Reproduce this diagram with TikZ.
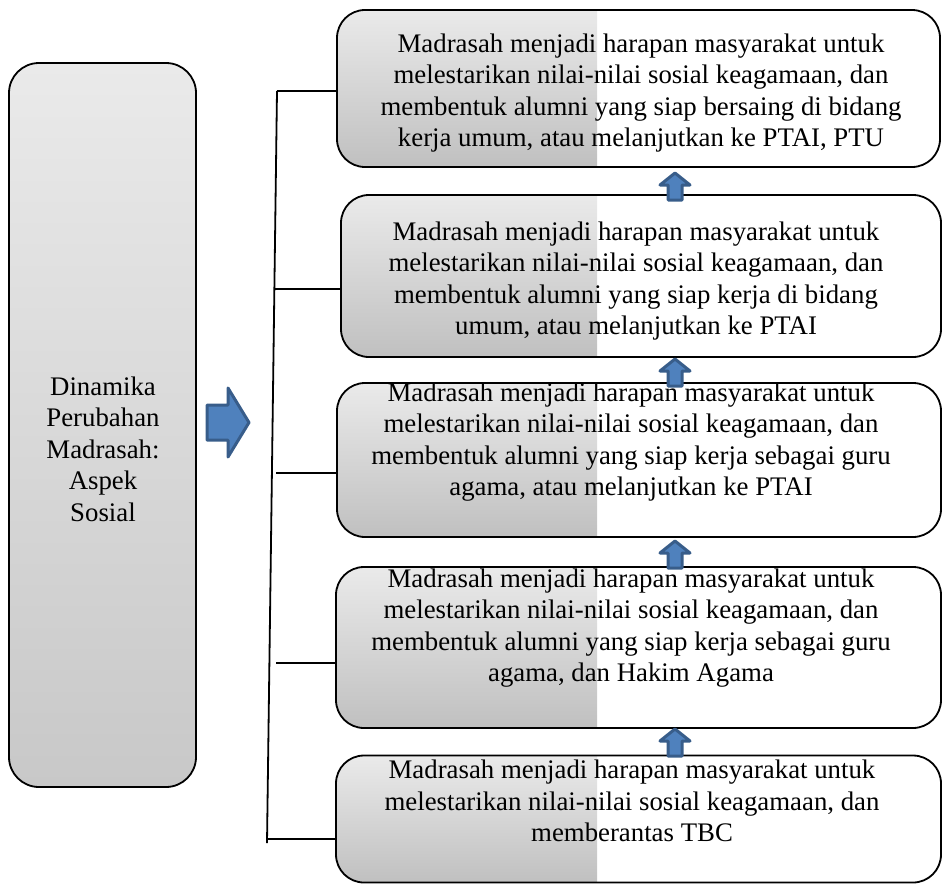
\documentclass[tikz,border=0pt]{standalone}
\usepackage{fontspec}
\setmainfont{Liberation Serif}
\definecolor{shadetop}{HTML}{EAEAEA}
\definecolor{shadebot}{HTML}{C0C0C0}
\definecolor{leftbot}{HTML}{C8C8C8}
\definecolor{arrowfill}{HTML}{4F81BD}
\definecolor{arrowline}{HTML}{385D8A}
\begin{document}
\begin{tikzpicture}[x=1pt,y=-1pt,
  outline/.style={draw=black, line width=1.8pt},
  stage/.style={outline, rounded corners=28pt, inner sep=0pt,
    path picture={\shade[sharp corners, top color=shadetop, bottom color=shadebot]
      (path picture bounding box.north west) rectangle (path picture bounding box.south -| split);}},
  mainbox/.style={outline, rounded corners=30pt, inner sep=0pt,
    top color=shadetop, bottom color=leftbot},
  caption/.style={font=\fontsize{26.8}{31.5}\selectfont, align=center, inner sep=0pt},
  link/.style={line width=1.8pt},
  bluearrow/.style={fill=arrowfill, draw=arrowline, line width=3pt, line join=round}]
\useasboundingbox (0,0) rectangle (942,884);
\coordinate (split) at (597,0);

% left summary box
\node[mainbox, minimum width=187pt, minimum height=724pt] (aspek) at (102.5,425) {};
\node[caption] (aspektext) at (103,449) {Dinamika\\Perubahan\\Madrasah:\\Aspek\\Sosial};

% stages, newest on top
\node[stage, minimum width=603pt, minimum height=157pt] (s1) at (638.5,88.5) {};
\node[stage, minimum width=600pt, minimum height=162pt] (s2) at (641,276) {};
\node[stage, minimum width=604pt, minimum height=154pt] (s3) at (639,460) {};
\node[stage, minimum width=605pt, minimum height=161pt] (s4) at (638.5,647.5) {};
\node[stage, minimum width=605pt, minimum height=127pt] (s5) at (638.5,819) {};

\node[caption] (t1) at (641,93) {Madrasah menjadi harapan masyarakat untuk\\melestarikan nilai-nilai sosial keagamaan, dan\\membentuk alumni yang siap bersaing di bidang\\kerja umum, atau melanjutkan ke PTAI, PTU};
\node[caption] (t2) at (636,281) {Madrasah menjadi harapan masyarakat untuk\\melestarikan nilai-nilai sosial keagamaan, dan\\membentuk alumni yang siap kerja di bidang\\umum, atau melanjutkan ke PTAI};
\node[caption] (t3) at (631,442) {Madrasah menjadi harapan masyarakat untuk\\melestarikan nilai-nilai sosial keagamaan, dan\\membentuk alumni yang siap kerja sebagai guru\\agama, atau melanjutkan ke PTAI};
\node[caption] (t4) at (631,628) {Madrasah menjadi harapan masyarakat untuk\\melestarikan nilai-nilai sosial keagamaan, dan\\membentuk alumni yang siap kerja sebagai guru\\agama, dan Hakim Agama};
\node[caption] (t5) at (632,801) {Madrasah menjadi harapan masyarakat untuk\\melestarikan nilai-nilai sosial keagamaan, dan\\memberantas TBC};

% bracket joining the stages
\coordinate (trunktop) at (277,91);
\coordinate (trunkbot) at (267,843);
\coordinate (b2) at (274.5,289);
\coordinate (b3) at (276,473);
\coordinate (b4) at (276,663);
\coordinate (b5) at (267.3,839);
\draw[link] (trunktop) -- (trunkbot);
\draw[link] (trunktop) -- (trunktop -| s1.west);
\draw[link] (b2) -- (b2 -| s2.west);
\draw[link] (b3) -- (b3 -| s3.west);
\draw[link] (b4) -- (b4 -| s4.west);
\draw[link] (b5) -- (b5 -| s5.west);

% block arrow from the summary to the stages
\coordinate (ra) at (207,405);
\draw[bluearrow] (ra) -- ++(21,0) -- ++(0,-17) -- ++(21,34.5) -- ++(-21,34.5) -- ++(0,-17) -- ++(-21,0) -- cycle;

% small arrows between stages
\foreach \tip [count=\i] in {173,359,541,729} {
  \coordinate (up\i) at (675,\tip);
  \draw[bluearrow] (up\i) -- ++(15,12) -- ++(-8,0) -- ++(0,15) -- ++(-14,0) -- ++(0,-15) -- ++(-8,0) -- cycle;
}
\end{tikzpicture}
\end{document}
